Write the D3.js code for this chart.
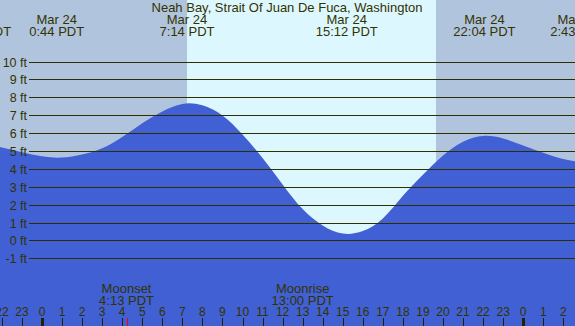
<!DOCTYPE html>
<html><head><meta charset="utf-8">
<script src="https://cdn.jsdelivr.net/npm/d3@7"></script>
<style>html,body{margin:0;padding:0;background:#fff;overflow:hidden}svg{display:block}text{font-family:"Liberation Sans",Arial,sans-serif;fill:#333300}</style>
</head><body>
<svg id="c" width="575" height="326"></svg>
<script>
const title = "Neah Bay, Strait Of Juan De Fuca, Washington";
// hourly tide heights (ft), hour 0 = midnight Mar 24
const hours   = [-3,-2,-1,0,1,2,3,4,5,6,7,8,9,10,11,12,13,14,15,16,17,18,19,20,21,22,23,24,25,26,27];
const heights = [5.34,5.20,4.93,4.70,4.63,4.80,5.15,5.78,6.55,7.21,7.63,7.55,6.98,5.92,4.60,3.13,1.75,0.84,0.38,0.52,1.22,2.49,3.67,4.74,5.52,5.84,5.70,5.30,4.90,4.55,4.36];
// tide extremes
const extremeHours = [-3.09, 0.733, 7.233, 15.2, 22.067, 26.717];
const extremeDates = ["Mar 23","Mar 24","Mar 24","Mar 24","Mar 24","Mar 25"];
const extremeTimes = ["20:55 PDT","0:44 PDT","7:14 PDT","15:12 PDT","22:04 PDT","2:43 PDT"];
// sun
const sunrise = 7.233, sunset = 19.65;
// moon
const moonNames = ["Moonset","Moonrise"];
const moonHours = [4.217, 13.0];
const moonTimes = ["4:13 PDT","13:00 PDT"];
const ftTicks = [-1,0,1,2,3,4,5,6,7,8,9,10];

const W = 575, H = 326;
const svg = d3.select("#c");
const x = d3.scaleLinear().domain([0, 24]).range([42, 523.2]);
const y = d3.scaleLinear().domain([-1, 10]).range([258.3, 61.5]);

// backgrounds
svg.append("rect").attr("x",0).attr("y",0).attr("width",W).attr("height",H).attr("fill","#b0c4de");
svg.append("rect").attr("x",x(sunrise)).attr("y",0).attr("width",x(sunset)-x(sunrise)).attr("height",H).attr("fill","#ddf7ff");

// tide area
const pts = hours.map((h,i)=>[h,heights[i]]);
const area = d3.area().x(d=>x(d[0])).y0(H).y1(d=>y(d[1])).curve(d3.curveNatural);
svg.append("path").datum(pts).attr("d",area).attr("fill","#4060d4");

// grid lines & labels
const g = svg.append("g");
ftTicks.forEach(v=>{
  const yy = Math.round(y(v))+0.5;
  g.append("line").attr("x1",29).attr("x2",W).attr("y1",yy).attr("y2",yy).attr("stroke","#2e2e00").attr("stroke-width",1.2);
  g.append("text").attr("x",27).attr("y",yy+4.5).attr("text-anchor","end").attr("font-size",12.5).text(v+" ft");
});

// title
svg.append("text").attr("x",287).attr("y",12).attr("text-anchor","middle").attr("font-size",13).text(title);

// extremes labels
extremeHours.forEach((h,i)=>{
  svg.append("text").attr("x",x(h)).attr("y",24).attr("text-anchor","middle").attr("font-size",13).text(extremeDates[i]);
  svg.append("text").attr("x",x(h)).attr("y",36).attr("text-anchor","middle").attr("font-size",13).text(extremeTimes[i]);
});

// moon labels
moonHours.forEach((h,i)=>{
  svg.append("text").attr("x",x(h)).attr("y",292.5).attr("text-anchor","middle").attr("font-size",13).text(moonNames[i]);
  svg.append("text").attr("x",x(h)).attr("y",304.5).attr("text-anchor","middle").attr("font-size",13).text(moonTimes[i]);
  svg.append("line").attr("x1",Math.round(x(h))+0.5).attr("x2",Math.round(x(h))+0.5).attr("y1",318).attr("y2",H).attr("stroke","#ff0000").attr("stroke-width",1);
});

// hour ticks
const hourTicks = d3.range(-2, 27);
hourTicks.forEach(h=>{
  const xx = Math.round(x(h))+0.5;
  const mid = ((h%24)+24)%24===0;
  svg.append("line").attr("x1",xx).attr("x2",xx).attr("y1",318).attr("y2",H).attr("stroke","#222200").attr("stroke-width",mid?3:1);
  svg.append("text").attr("x",x(h)).attr("y",316).attr("text-anchor","middle").attr("font-size",12).text(((h%24)+24)%24);
});
</script>
</body></html>
